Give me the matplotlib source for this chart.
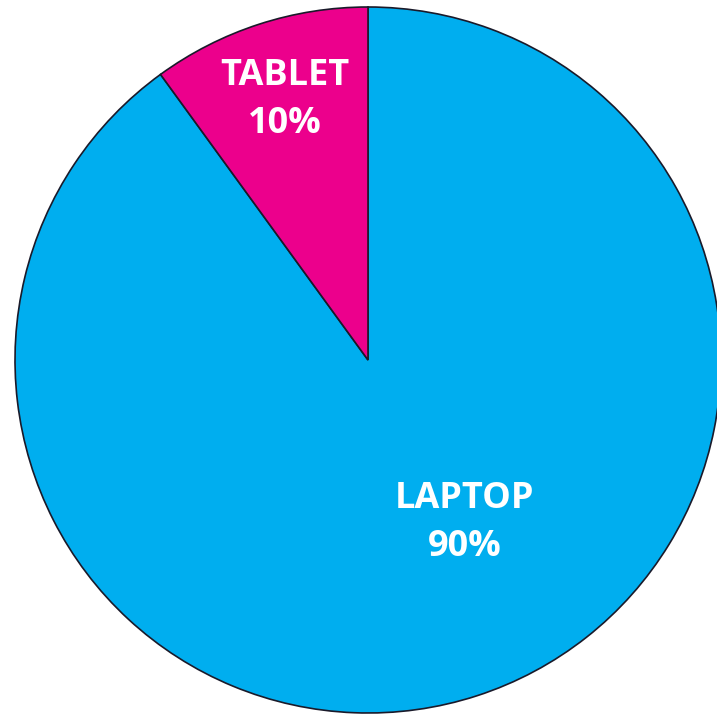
import matplotlib
matplotlib.use("Agg")
import matplotlib.pyplot as plt

labels = ["LAPTOP", "TABLET"]
values = [90, 10]
colors = ["#00AEEF", "#EC008C"]

W, H = 717, 715
fig = plt.figure(figsize=(W / 100, H / 100), dpi=100)
ax = fig.add_axes([0, 0, 1, 1])

cx, cy, r = 368, H - 360, 353
wedges, _ = ax.pie(values, colors=colors, startangle=90, counterclock=False,
                   center=(cx, cy), radius=r, frame=True,
                   wedgeprops=dict(edgecolor="#1a1a2a", linewidth=1.2))
ax.set_xlim(0, W)
ax.set_ylim(0, H)
ax.set_aspect("equal")
ax.axis("off")

label_pos = {"LAPTOP": (465, 523), "TABLET": (285, 100)}
for lab, val in zip(labels, values):
    x, y = label_pos[lab]
    ax.text(x, H - y, f"{lab}\n{val}%", ha="center", va="center", color="white",
            fontsize=26, fontweight="bold", family="Open Sans", linespacing=1.42)

fig.savefig("out.png", dpi=100)
